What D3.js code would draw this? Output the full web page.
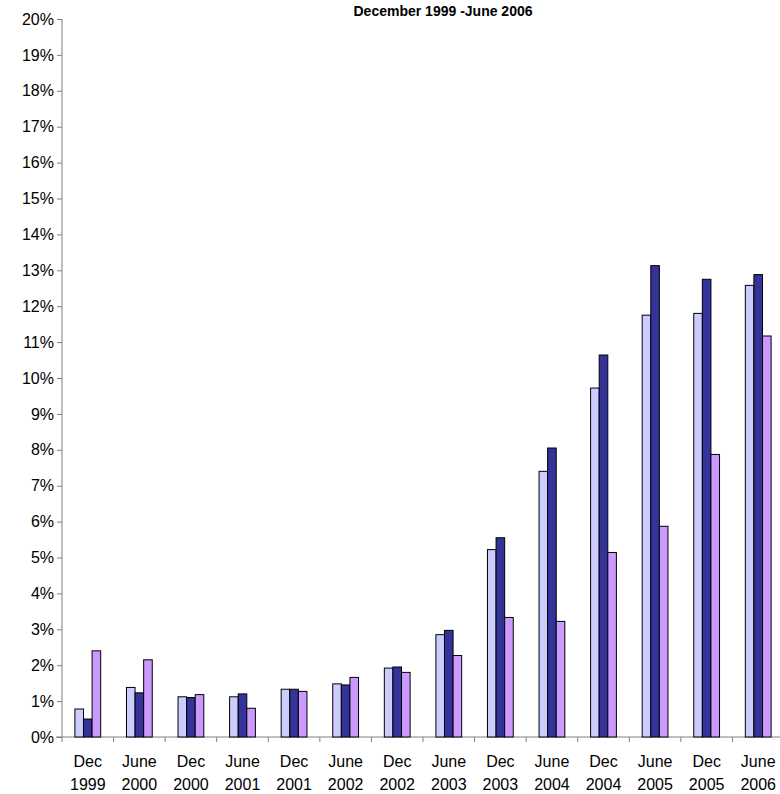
<!DOCTYPE html>
<html><head><meta charset="utf-8">
<script src="https://cdn.jsdelivr.net/npm/d3@7"></script>
<style>body{margin:0;background:#fff;font-family:"Liberation Sans",Arial,sans-serif}</style>
</head><body><div id="chart"></div>
<script>
var periods = [["Dec","1999"],["June","2000"],["Dec","2000"],["June","2001"],["Dec","2001"],["June","2002"],["Dec","2002"],["June","2003"],["Dec","2003"],["June","2004"],["Dec","2004"],["June","2005"],["Dec","2005"],["June","2006"]];
var seriesA = [0.78,1.38,1.12,1.12,1.33,1.48,1.92,2.85,5.22,7.40,9.72,11.75,11.80,12.58];
var seriesB = [0.50,1.23,1.10,1.20,1.33,1.45,1.95,2.97,5.55,8.05,10.64,13.13,12.75,12.88];
var seriesC = [2.40,2.15,1.18,0.80,1.27,1.66,1.80,2.27,3.33,3.22,5.14,5.87,7.87,11.17];
var colors = ["#ccccff","#333399","#cc99ff"];

var svg = d3.select("#chart").append("svg").attr("width",780).attr("height",794);
var plotLeft = 62, plotRight = 784, plotTop = 19, plotBottom = 737;

var x = d3.scaleBand().domain(d3.range(periods.length)).range([plotLeft,plotRight]).paddingInner(0.5).paddingOuter(0.25);
var step = x.step();
var xs = d3.scaleBand().domain([0,1,2]).range([0,x.bandwidth()]);
var y = d3.scaleLinear().domain([0,0.20]).range([plotBottom,plotTop]);

svg.append("text").attr("x",443).attr("y",16).attr("text-anchor","middle")
  .attr("font-weight","bold").attr("font-size",14).text("December 1999 -June 2006");

var yAxis = svg.append("g").attr("transform",`translate(${plotLeft},0)`)
  .call(d3.axisLeft(y).ticks(20).tickFormat(d3.format(".0%")).tickSize(5).tickPadding(3));
yAxis.selectAll("text").attr("font-size",16).attr("fill","#000").attr("font-family","Liberation Sans, Arial");
yAxis.selectAll("line,path").attr("stroke","#808080");
yAxis.select("path").attr("d",`M0,${plotBottom}V${plotTop}`);

var xAxis = svg.append("g").attr("transform",`translate(0,${plotBottom})`);
xAxis.append("line").attr("x1",plotLeft-6).attr("x2",plotRight).attr("stroke","#808080");
xAxis.selectAll(".tk").data(d3.range(periods.length+1)).enter().append("line")
  .attr("x1",d=>plotLeft+d*step).attr("x2",d=>plotLeft+d*step).attr("y1",0).attr("y2",5).attr("stroke","#808080");
var lbl = xAxis.selectAll(".lb").data(periods).enter().append("text")
  .attr("text-anchor","middle").attr("font-size",16).attr("transform",(d,i)=>`translate(${plotLeft+(i+0.5)*step},0)`);
lbl.append("tspan").attr("x",0).attr("y",30).text(d=>d[0]);
lbl.append("tspan").attr("x",0).attr("y",53).text(d=>d[1]);

[seriesA,seriesB,seriesC].forEach(function(s,k){
  svg.append("g").selectAll("rect").data(s).enter().append("rect")
    .attr("x",(d,i)=>x(i)+xs(k)).attr("width",xs.bandwidth())
    .attr("y",d=>y(d/100)).attr("height",d=>plotBottom-y(d/100))
    .attr("fill",colors[k]).attr("stroke","#000").attr("stroke-width",1);
});
</script></body></html>
